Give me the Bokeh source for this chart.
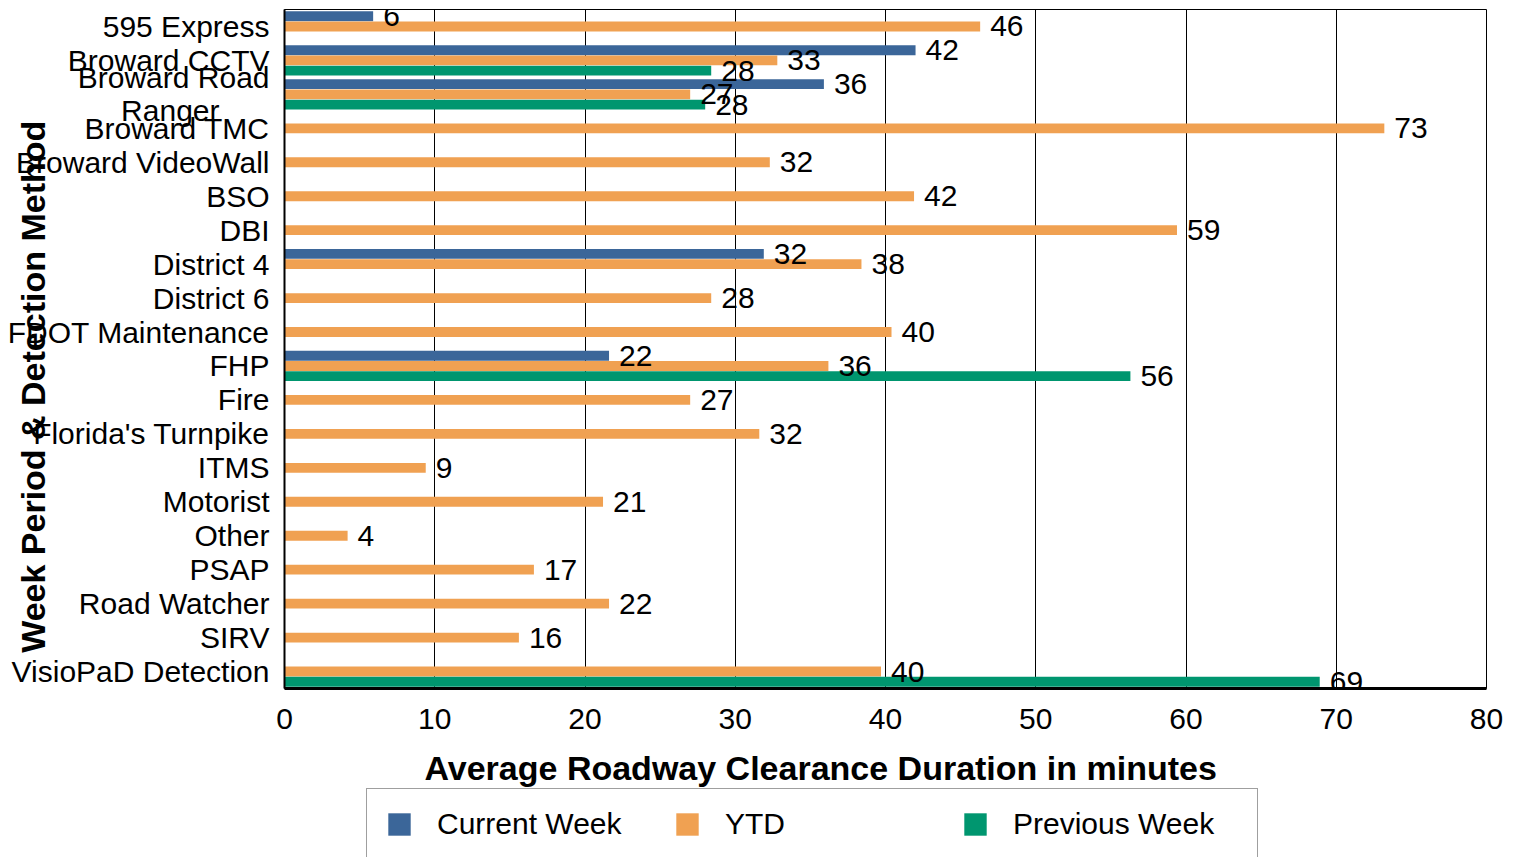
from bokeh.plotting import figure
from bokeh.layouts import column
from bokeh.models import (Range1d, FixedTicker, LabelSet, ColumnDataSource,
                          Legend, LegendItem, Title)
from bokeh.core.properties import value
from bokeh.embed import file_html
from bokeh.resources import INLINE

categories = ["595 Express", "Broward CCTV", "Broward Road Ranger", "Broward TMC",
              "Broward VideoWall", "BSO", "DBI", "District 4", "District 6",
              "FDOT Maintenance", "FHP", "Fire", "Florida's Turnpike", "ITMS",
              "Motorist", "Other", "PSAP", "Road Watcher", "SIRV", "VisioPaD Detection"]

current_week = [5.9, 42.0, 35.9, None, None, None, None, 31.9, None, None,
                21.6, None, None, None, None, None, None, None, None, None]
ytd = [46.3, 32.8, 27.0, 73.2, 32.3, 41.9, 59.4, 38.4, 28.4, 40.4,
       36.2, 27.0, 31.6, 9.4, 21.2, 4.2, 16.6, 21.6, 15.6, 39.7]
previous_week = [None, 28.4, 28.0, None, None, None, None, None, None, None,
                 56.3, None, None, None, None, None, None, None, None, 68.9]

series_names = ["Current Week", "YTD", "Previous Week"]
series_colors = ["#3B6699", "#F0A152", "#00966F"]
x_ticks = [0, 10, 20, 30, 40, 50, 60, 70, 80]

FONT = "Liberation Sans"
NBSP = "\u00a0"
n = len(categories)

p = figure(width=1514, height=745, output_backend="svg", toolbar_location=None,
           x_range=Range1d(0, 80), y_range=Range1d(n, 0),
           min_border_left=284, min_border_right=28, min_border_top=9,
           min_border_bottom=57)

p.outline_line_color = "black"
p.outline_line_width = 1
p.background_fill_color = "white"
p.border_fill_color = "white"

# x axis
p.xaxis.ticker = FixedTicker(ticks=x_ticks)
p.xaxis.major_label_text_font = FONT
p.xaxis.major_label_text_font_size = "30px"
p.xaxis.major_label_text_color = "black"
p.xaxis.major_tick_out = 0
p.xaxis.major_tick_in = 0
p.xaxis.minor_tick_out = 0
p.xaxis.minor_tick_in = 0
p.xaxis.major_label_standoff = 20
p.xaxis.axis_line_color = "black"
p.xaxis.axis_line_width = 3

# y axis with category labels
tick_pos = [i + 0.5 for i in range(n)]
display_names = [c if c != "Broward Road Ranger" else "Broward Road\nRanger" + NBSP * 6
                 for c in categories]
p.yaxis.ticker = FixedTicker(ticks=tick_pos)
p.yaxis.major_label_overrides = {t: s for t, s in zip(tick_pos, display_names)}
p.yaxis.major_label_text_font = FONT
p.yaxis.major_label_text_font_size = "30px"
p.yaxis.major_label_text_line_height = 1.0
p.yaxis.major_label_text_color = "black"
p.yaxis.major_label_standoff = 15
p.yaxis.major_tick_out = 0
p.yaxis.major_tick_in = 0
p.yaxis.minor_tick_out = 0
p.yaxis.minor_tick_in = 0
p.yaxis.axis_line_color = "black"
p.yaxis.axis_line_width = 2
p.yaxis.axis_label = "Week Period & Detection Method" + NBSP * 8
p.yaxis.axis_label_text_font = FONT
p.yaxis.axis_label_text_font_size = "34px"
p.yaxis.axis_label_text_font_style = "bold"
p.yaxis.axis_label_text_color = "black"
p.yaxis.axis_label_standoff = -47

p.xgrid.grid_line_color = "black"
p.xgrid.grid_line_width = 1
p.ygrid.grid_line_color = None

offsets = [-0.3, 0.0, 0.3]
all_series = [current_week, ytd, previous_week]
sources = []
for name, vals, col, off in zip(series_names, all_series, series_colors, offsets):
    ys, vs, lbls = [], [], []
    for i, v in enumerate(vals):
        if v is None:
            continue
        ys.append(i + 0.5 + off)
        vs.append(v)
        lbls.append(f"{v:.0f}")
    src = ColumnDataSource(dict(y=ys, v=vs, lbl=lbls))
    sources.append(src)
    p.hbar(y="y", right="v", left=0, height=0.29, source=src,
           fill_color=col, line_color=None)
    p.add_layout(LabelSet(x="v", y="y", text="lbl", source=src, x_offset=10,
                          text_font=value(FONT), text_font_size="30px",
                          text_color="black", text_baseline="middle",
                          text_align="left"))

# lower strip: x-axis title and legend
p2 = figure(width=1514, height=112, output_backend="svg", toolbar_location=None,
            x_axis_type=None, y_axis_type=None, x_range=Range1d(0, 80),
            y_range=Range1d(n, 0), min_border_left=284, min_border_top=40,
            min_border_right=28, min_border_bottom=0)
p2.outline_line_color = None
p2.grid.grid_line_color = None
p2.background_fill_color = "white"
p2.border_fill_color = "white"

xt = Title(text="Average Roadway Clearance Duration in minutes", align="left",
           offset=140, text_font=FONT, text_font_size="34px", text_font_style="bold",
           text_color="black", standoff=2)
p2.add_layout(xt, "above")

legend_items = []
for name, col, src in zip(series_names, series_colors, sources):
    r = p2.hbar(y="y", right="v", left=0, height=0.29, source=src,
                fill_color=col, line_color=None, visible=False)
    legend_items.append(LegendItem(label=name, renderers=[r]))
legend = Legend(items=legend_items, orientation="horizontal", location=(82, -3),
                glyph_width=28, glyph_height=28, label_standoff=24, label_width=226,
                label_height=28, spacing=10, padding=18, margin=0,
                label_text_font=FONT, label_text_font_size="30px",
                label_text_color="black", border_line_color="#404040",
                border_line_width=1, background_fill_color="white",
                background_fill_alpha=1.0, inactive_fill_alpha=0.0)
p2.add_layout(legend, "center")

open("out.html", "w").write(file_html(column(p, p2, spacing=0), INLINE))
